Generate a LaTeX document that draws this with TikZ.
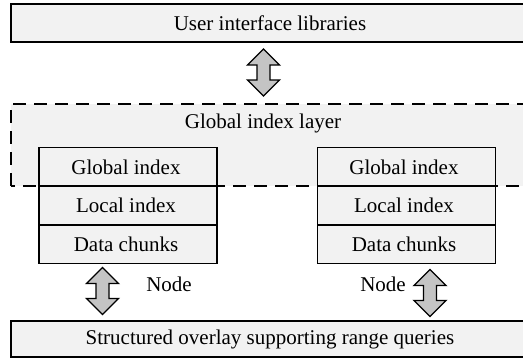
\documentclass[tikz,border=0pt]{standalone}
\usepackage{fontspec}
\setmainfont{Liberation Serif}
\definecolor{boxfill}{RGB}{242,242,242}
\definecolor{arrowfill}{RGB}{196,196,196}
\begin{document}
\begin{tikzpicture}[x=1pt,y=-1pt,
  every node/.style={font=\fontsize{21}{25}\selectfont, inner sep=0pt},
  layerbox/.style={draw=black, line width=1.8pt, fill=boxfill, rectangle, minimum width=524pt, anchor=center},
  cellbox/.style={draw=black, line width=1.6pt, fill=boxfill, rectangle, minimum width=178pt, minimum height=38.7pt},
  lbl/.style={fill=none, draw=none},
  pics/dblarrow/.style={code={
    \draw[line width=1.4pt, fill=arrowfill, line join=miter]
      (0,-23.5) -- (16,-7.5) -- (6.5,-7.5) -- (6.5,7.5) -- (16,7.5) -- (0,23.5)
      -- (-16,7.5) -- (-6.5,7.5) -- (-6.5,-7.5) -- (-16,-7.5) -- cycle;
  }}]
\useasboundingbox (0,0) rectangle (523,359);
\clip (0,0) rectangle (523,359);
% global index layer (dashed)
\draw[line width=1.8pt, dash pattern=on 13pt off 8pt, fill=boxfill] (11,186) -- (11,104) -- (540,104) -- (540,186) -- cycle;
\node[lbl] (gil) at (263,123) {Global index layer};
% left stack
\node[cellbox] (gi1) at (128,167) {};
\node[cellbox] (li1) at (128,205.3) {};
\node[cellbox] (dc1) at (128,244.2) {};
\node[lbl] at (126,167) {Global index};
\node[lbl] at (126,205) {Local index};
\node[lbl] at (126,244) {Data chunks};
% right stack
\node[cellbox] (gi2) at (406.5,167) {};
\node[cellbox] (li2) at (406.5,205.3) {};
\node[cellbox] (dc2) at (406.5,244.2) {};
\node[lbl] at (404,167) {Global index};
\node[lbl] at (404,205) {Local index};
\node[lbl] at (404,244) {Data chunks};
% top and bottom layers
\node[layerbox, minimum height=38pt] (ui) at (273,23) {};
\node[lbl] at (270,23) {User interface libraries};
\node[layerbox, minimum height=36pt] (so) at (273,339) {};
\node[lbl] at (270,339) {Structured overlay supporting range queries};
% arrows
\coordinate (a0) at (263.5,72.5);
\coordinate (a1) at (102.5,291);
\coordinate (a2) at (430,293);
\pic at (a0) {dblarrow};
\pic at (a1) {dblarrow};
\pic at (a2) {dblarrow};
% node labels
\node[lbl] (n1) at (169,284) {Node};
\node[lbl] (n2) at (383,284) {Node};
\end{tikzpicture}
\end{document}
